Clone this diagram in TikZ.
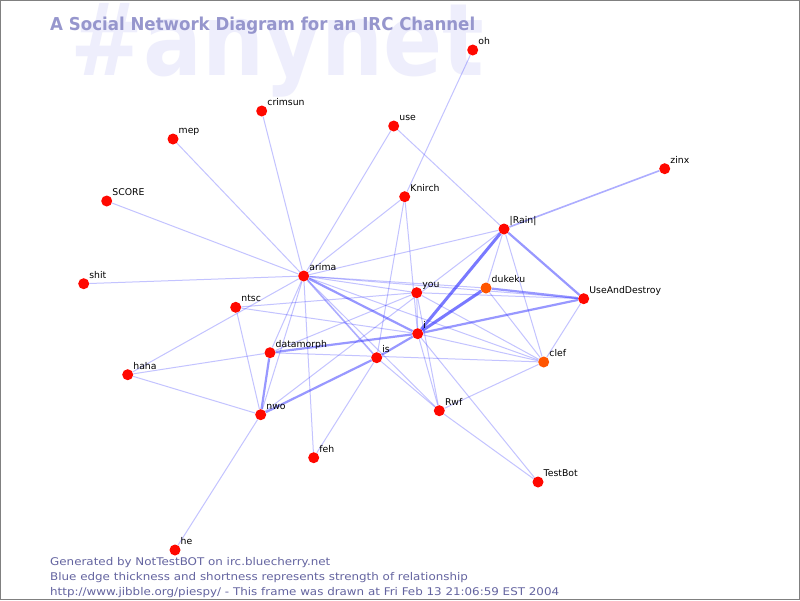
\documentclass[tikz,border=0pt]{standalone}
\usepackage{fontspec}
\setmainfont{DejaVu Sans}
\pgfdeclarelayer{bg}
\pgfdeclarelayer{edges}
\pgfsetlayers{bg,edges,main}
\definecolor{nodered}{RGB}{255,8,0}
\definecolor{nodeorange}{RGB}{255,85,0}
\definecolor{edgeblue}{RGB}{40,40,255}
\definecolor{wm}{RGB}{238,238,252}
\definecolor{titlec}{RGB}{150,150,205}
\definecolor{footc}{RGB}{100,100,160}
\tikzset{
 pnode/.style={circle, fill=nodered, inner sep=0pt, minimum size=11pt},
 onode/.style={pnode, fill=nodeorange},
 lbl/.style={font=\fontsize{9.3}{11}\selectfont, inner sep=0pt, anchor=base west, text=black},
 e1/.style={draw=edgeblue, line width=1pt, draw opacity=0.28},
 e2/.style={draw=edgeblue, line width=1.6pt, draw opacity=0.38},
 e3/.style={draw=edgeblue, line width=2.2pt, draw opacity=0.48},
 e4/.style={draw=edgeblue, line width=3pt, draw opacity=0.62},
 foot/.style={font=\fontsize{10}{12}\selectfont, text=footc, inner sep=0pt, anchor=base west},
}
\newcommand\mkpn[4]{\node[#1] (#2) at (#3) {}; \node[lbl] (#2l) at ([xshift=5.5pt,yshift=5.5pt]#2.center) {#4};}
\newcommand\footline[1]{\scalebox{1.19}[1.06]{#1}}
\begin{document}
\begin{tikzpicture}[x=1pt,y=-1pt]
\useasboundingbox (0,0) rectangle (800,600);
\begin{pgfonlayer}{bg}
\fill[white] (0,0) rectangle (800,600);
\node[anchor=base west, inner sep=0pt, text=wm] (wmk) at (70,75) {\resizebox{414pt}{72pt}{\bfseries\#anynet}};
\end{pgfonlayer}
\node[anchor=base west, inner sep=0pt, text=titlec] (title) at (50,30.5) {\resizebox{425pt}{13.5pt}{\bfseries A Social Network Diagram for an IRC Channel}};
\node[foot] (f1) at (50,565) {\footline{Generated by NotTestBOT on irc.bluecherry.net}};
\node[foot] (f2) at (50,580) {\footline{Blue edge thickness and shortness represents strength of relationship}};
\node[foot] (f3) at (50,595) {\footline{http://www.jibble.org/piespy/ - This frame was drawn at Fri Feb 13 21:06:59 EST 2004}};

\mkpn{pnode}{oh}{472.7,50}{oh}
\mkpn{pnode}{crimsun}{261.7,111}{crimsun}
\mkpn{pnode}{use}{393.7,126}{use}
\mkpn{pnode}{mep}{173,139}{mep}
\mkpn{pnode}{zinx}{664.7,168.7}{zinx}
\mkpn{pnode}{score}{106.7,201}{SCORE}
\mkpn{pnode}{knirch}{404.7,196.7}{Knirch}
\mkpn{pnode}{rain}{504,229}{|Rain|}
\mkpn{pnode}{arima}{303.7,276}{arima}
\mkpn{pnode}{shit}{83.7,283.7}{shit}
\mkpn{pnode}{you}{416.7,292.7}{you}
\mkpn{onode}{dukeku}{486,288}{dukeku}
\mkpn{pnode}{uad}{583.7,298.7}{UseAndDestroy}
\mkpn{pnode}{ntsc}{235.7,307.3}{ntsc}
\mkpn{pnode}{i}{417.7,333.7}{i}
\mkpn{pnode}{datamorph}{270,352.7}{datamorph}
\mkpn{pnode}{is}{376.7,357.7}{is}
\mkpn{onode}{clef}{543.7,362}{clef}
\mkpn{pnode}{haha}{127.7,374.7}{haha}
\mkpn{pnode}{rwf}{439.3,410.7}{Rwf}
\mkpn{pnode}{nwo}{260.7,414.7}{nwo}
\mkpn{pnode}{feh}{313.7,457.7}{feh}
\mkpn{pnode}{testbot}{538,482}{TestBot}
\mkpn{pnode}{he}{175,550}{he}

\begin{pgfonlayer}{edges}
\draw[e1] (oh) -- (knirch);
\draw[e1] (crimsun) -- (arima);
\draw[e1] (mep) -- (arima);
\draw[e1] (score) -- (arima);
\draw[e1] (shit) -- (arima);
\draw[e1] (use) -- (arima);
\draw[e1] (use) -- (rain);
\draw[e1] (knirch) -- (arima);
\draw[e1] (knirch) -- (is);
\draw[e1] (knirch) -- (i);
\draw[e1] (rain) -- (arima);
\draw[e1] (rain) -- (dukeku);
\draw[e1] (rain) -- (clef);
\draw[e1] (arima) -- (you);
\draw[e1] (arima) -- (dukeku);
\draw[e1] (arima) -- (uad);
\draw[e1] (arima) -- (rwf);
\draw[e1] (arima) -- (clef);
\draw[e1] (arima) -- (datamorph);
\draw[e1] (arima) -- (nwo);
\draw[e1] (arima) -- (feh);
\draw[e1] (haha) -- (arima);
\draw[e1] (haha) -- (datamorph);
\draw[e1] (haha) -- (nwo);
\draw[e1] (ntsc) -- (nwo);
\draw[e1] (ntsc) -- (you);
\draw[e1] (ntsc) -- (i);
\draw[e1] (nwo) -- (he);
\draw[e1] (datamorph) -- (you);
\draw[e1] (datamorph) -- (clef);
\draw[e1] (you) -- (i);
\draw[e1] (you) -- (clef);
\draw[e1] (you) -- (rwf);
\draw[e1] (you) -- (uad);
\draw[e1] (i) -- (clef);
\draw[e1] (i) -- (rwf);
\draw[e1] (i) -- (testbot);
\draw[e1] (feh) -- (is);
\draw[e1] (is) -- (rwf);
\draw[e1] (dukeku) -- (clef);
\draw[e1] (uad) -- (clef);
\draw[e1] (clef) -- (rwf);
\draw[e1] (rwf) -- (testbot);
\draw[e1] (nwo) -- (rain);
\draw[e2] (zinx) -- (rain);
\draw[e2] (arima) -- (is);
\draw[e3] (rain) -- (uad);
\draw[e3] (dukeku) -- (uad);
\draw[e3] (i) -- (uad);
\draw[e3] (is) -- (i);
\draw[e3] (nwo) -- (is);
\draw[e3] (nwo) -- (datamorph);
\draw[e3] (datamorph) -- (i);
\draw[e3] (arima) -- (i);
\draw[e4] (rain) -- (i);
\draw[e4] (dukeku) -- (i);
\end{pgfonlayer}

\draw[draw=gray, line width=1pt] (0.5,0.5) rectangle (799.5,599.5);
\end{tikzpicture}
\end{document}
